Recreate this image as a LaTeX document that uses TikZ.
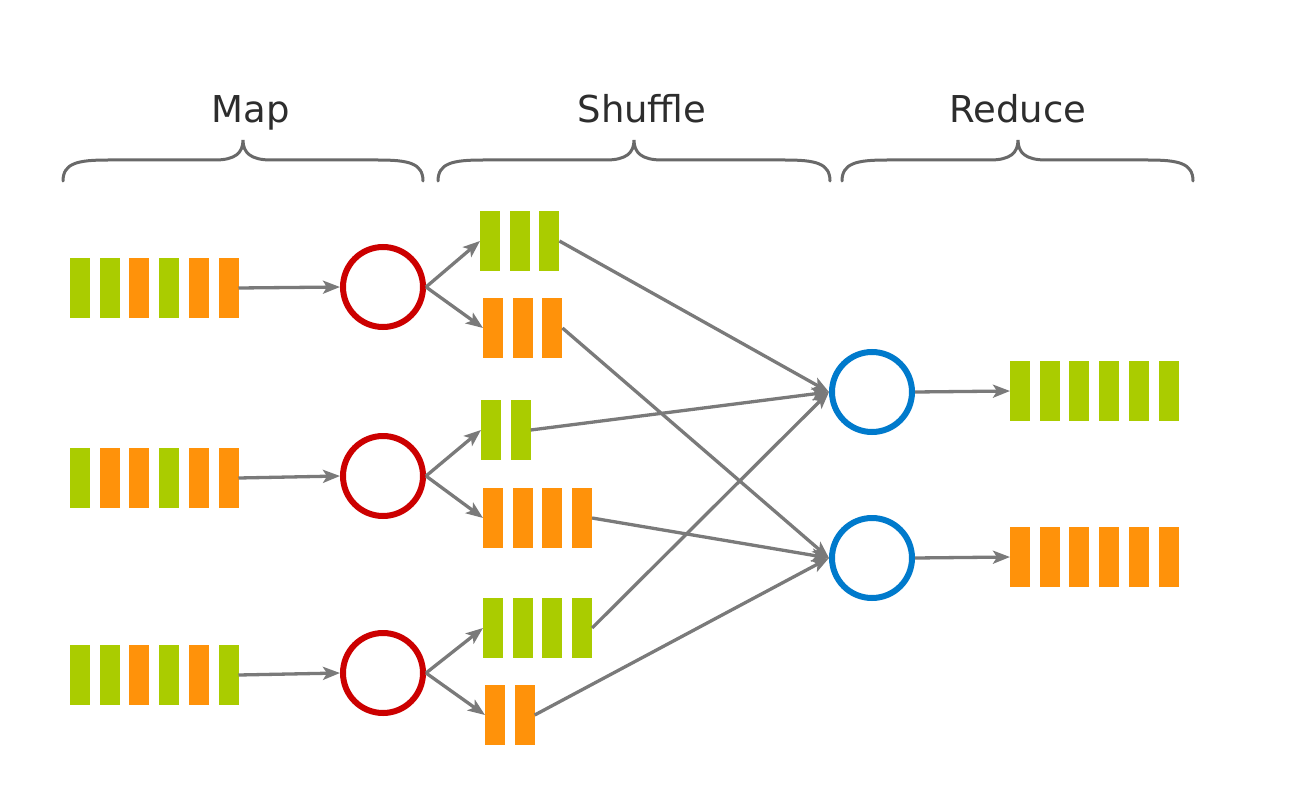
\documentclass[tikz,border=0pt]{standalone}
\usepackage{fontspec}
\setmainfont{DejaVu Sans}
\usetikzlibrary{arrows.meta}
\definecolor{cg}{RGB}{170,204,0}
\definecolor{co}{RGB}{255,146,10}
\definecolor{cred}{RGB}{204,0,0}
\definecolor{cblue}{RGB}{0,122,204}
\definecolor{carrow}{RGB}{122,122,122}
\definecolor{cbrace}{RGB}{105,105,105}
\definecolor{ctext}{RGB}{45,45,45}
\newcommand\barrow[4]{%
  \foreach \c [count=\i] in {#4}
    \node[barnode, fill=\c] (#1-\i) at ({#2+10+(\i-1)*29.7},#3) {};%
}
\newcommand\mybrace[3]{%
  \draw[bracestyle] (#1,181) .. controls (#1,163) and ({#1+15},160) .. ({#1+45},160)
    -- ({#2-28},160) .. controls ({#2-8},160) and (#2,153) .. (#2,140)
    .. controls (#2,153) and ({#2+8},160) .. ({#2+28},160)
    -- ({#3-45},160) .. controls ({#3-15},160) and (#3,163) .. (#3,181);%
}
\begin{document}
\begin{tikzpicture}[x=1pt,y=-1pt,
  barnode/.style={rectangle, inner sep=0pt, outer sep=0pt, minimum width=20pt, minimum height=60pt, draw=none},
  mapper/.style={circle, draw=cred, line width=6pt, minimum size=80pt, inner sep=0pt, fill=white},
  reducer/.style={circle, draw=cblue, line width=6pt, minimum size=80pt, inner sep=0pt, fill=white},
  arr/.style={draw=carrow, line width=3.3pt, -{Stealth[length=17pt,width=13pt,inset=4pt]}},
  bracestyle/.style={draw=cbrace, line width=3pt, line cap=round},
  label/.style={text=ctext, font=\fontsize{37}{40}\selectfont, anchor=base, inner sep=0pt}]
\useasboundingbox (0,0) rectangle (1305,805);
\fill[white] (0,0) rectangle (1305,805);

% labels and braces
\node[label] (lmap) at (251,123) {Map};
\node[label] (lshuffle) at (642,123) {Shuffle};
\node[label] (lreduce) at (1018,123) {Reduce};
\mybrace{63}{243}{423}
\mybrace{438}{634}{830}
\mybrace{842}{1018}{1193}

% map inputs
\barrow{m1}{70}{288}{cg,cg,co,cg,co,co}
\barrow{m2}{70}{478}{cg,co,co,cg,co,co}
\barrow{m3}{70}{675}{cg,cg,co,cg,co,cg}

% mappers
\node[mapper] (r1) at (383,287) {};
\node[mapper] (r2) at (383,476) {};
\node[mapper] (r3) at (383,673) {};

% shuffle partitions
\barrow{s1}{480}{241}{cg,cg,cg}
\barrow{s2}{483}{328}{co,co,co}
\barrow{s3}{481}{430}{cg,cg}
\barrow{s4}{483}{518}{co,co,co,co}
\barrow{s5}{483}{628}{cg,cg,cg,cg}
\barrow{s6}{485}{715}{co,co}

% reducers
\node[reducer] (b1) at (872,392) {};
\node[reducer] (b2) at (872,558) {};

% outputs
\barrow{o1}{1010}{391}{cg,cg,cg,cg,cg,cg}
\barrow{o2}{1010}{557}{co,co,co,co,co,co}

% arrows: input -> mapper
\draw[arr] (m1-6.east) -- (r1.west);
\draw[arr] (m2-6.east) -- (r2.west);
\draw[arr] (m3-6.east) -- (r3.west);

% mapper -> partitions
\draw[arr] (r1.east) -- (s1-1.west);
\draw[arr] (r1.east) -- (s2-1.west);
\draw[arr] (r2.east) -- (s3-1.west);
\draw[arr] (r2.east) -- (s4-1.west);
\draw[arr] (r3.east) -- (s5-1.west);
\draw[arr] (r3.east) -- (s6-1.west);

% partitions -> reducers
\draw[arr] (s1-3.east) -- (b1.west);
\draw[arr] (s3-2.east) -- (b1.west);
\draw[arr] (s5-4.east) -- (b1.west);
\draw[arr] (s2-3.east) -- (b2.west);
\draw[arr] (s4-4.east) -- (b2.west);
\draw[arr] (s6-2.east) -- (b2.west);

% reducer -> outputs
\draw[arr] (b1.east) -- (o1-1.west);
\draw[arr] (b2.east) -- (o2-1.west);
\end{tikzpicture}
\end{document}
